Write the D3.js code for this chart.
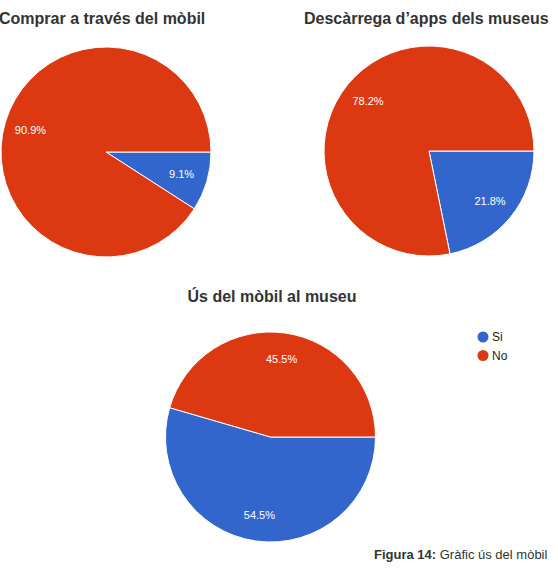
<!DOCTYPE html>
<html><head><meta charset="utf-8">
<script src="https://cdn.jsdelivr.net/npm/d3@7"></script>
<style>html,body{margin:0;padding:0;background:#fff;}</style>
</head><body>
<script>
const categories = ["Si", "No"];
const colors = ["#3366cc", "#dc3912"];
const chartTitles = ["Comprar a través del mòbil", "Descàrrega d’apps dels museus", "Ús del mòbil al museu"];
const compraValues = [9.1, 90.9];
const appsValues = [21.8, 78.2];
const usValues = [54.5, 45.5];
const captionBold = "Figura 14:";
const captionText = " Gràfic ús del mòbil";

const W = 558, H = 573;
const svg = d3.select("body").append("svg").attr("width", W).attr("height", H);
const font = "'Liberation Sans', Arial, sans-serif";

const pies = [
  {values: compraValues, cx: 106, cy: 152, title: chartTitles[0], tx: -1, ty: 24, anchor: "start"},
  {values: appsValues, cx: 429, cy: 151, title: chartTitles[1], tx: 304, ty: 24, anchor: "start"},
  {values: usValues, cx: 270.5, cy: 437, title: chartTitles[2], tx: 272, ty: 302, anchor: "middle"}
];
const R = 105;
const color = d3.scaleOrdinal().domain(categories).range(colors);
const pie = d3.pie().sort(null).value(d => d.v).startAngle(Math.PI / 2).endAngle(Math.PI / 2 + 2 * Math.PI);
const arc = d3.arc().innerRadius(0).outerRadius(R);
const labelArc = d3.arc().innerRadius(R * 0.75).outerRadius(R * 0.75);

pies.forEach(p => {
  const data = categories.map((c, i) => ({c, v: p.values[i]}));
  const g = svg.append("g").attr("transform", `translate(${p.cx},${p.cy})`);
  const arcs = pie(data);
  g.selectAll("path").data(arcs).join("path")
    .attr("d", arc).attr("fill", d => color(d.data.c))
    .attr("stroke", "#fff").attr("stroke-width", 1);
  g.selectAll("text").data(arcs).join("text")
    .attr("transform", d => `translate(${labelArc.centroid(d)})`)
    .attr("text-anchor", "middle").attr("dy", "0.35em")
    .attr("fill", "#fff").attr("font-family", font).attr("font-size", 11)
    .text(d => d.data.v.toFixed(1) + "%");
  svg.append("text").attr("x", p.tx).attr("y", p.ty)
    .attr("text-anchor", p.anchor)
    .attr("font-family", font).attr("font-weight", "bold").attr("font-size", 16)
    .attr("fill", "#333").text(p.title);
});

// legend
const leg = svg.append("g").attr("transform", "translate(483,337)");
categories.forEach((c, i) => {
  leg.append("circle").attr("cx", 0).attr("cy", i * 18.5).attr("r", 5.5).attr("fill", color(c));
  leg.append("text").attr("x", 9).attr("y", i * 18.5).attr("dy", "0.35em")
    .attr("font-family", font).attr("font-size", 12).attr("fill", "#222").text(c);
});

// caption
const cap = svg.append("text").attr("x", 374).attr("y", 559)
  .attr("font-family", font).attr("font-size", 13).attr("fill", "#333");
cap.append("tspan").attr("font-weight", "bold").text(captionBold);
cap.append("tspan").text(captionText);
</script>
</body></html>
